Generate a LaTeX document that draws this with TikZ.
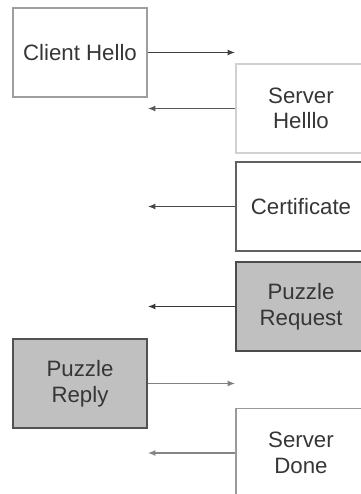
\documentclass[tikz,border=0pt]{standalone}
\usepackage{fontspec}
\setmainfont{Liberation Sans}
\usetikzlibrary{arrows.meta, positioning}
\definecolor{boxgray}{HTML}{C0C0C0}
\definecolor{txtgray}{HTML}{363636}

\begin{document}
\begin{tikzpicture}[
    msg/.style={rectangle, draw=#1, line width=1.1pt, minimum width=3.9cm, minimum height=2.67cm, align=center, text=txtgray, font=\fontsize{19}{21.9}\selectfont},
    msg/.default=gray!70,
    client/.style={msg=#1, minimum width=4.02cm},
    puzzle/.style={fill=boxgray},
    arr/.style={-{Latex[length=6.5pt, width=5pt]}, line width=1.4pt, draw=#1},
    arr/.default=black!70
]
\useasboundingbox (0,0) rectangle (10.8,-14.82);

% Client side
\node[client=black!38] (chello) at (2.4,-1.575) {Client Hello};
\node[client=black!68, puzzle] (preply) at (2.4,-11.505) {Puzzle\\Reply};

% Server side
\node[msg=black!18] (shello) at (9.03,-3.255) {Server\\Helllo};
\node[msg=black!62] (cert) at (9.03,-6.195) {Certificate};
\node[msg=black!70, puzzle] (preq) at (9.03,-9.195) {Puzzle\\Request};
\node[msg=black!40] (sdone) at (9.03,-13.59) {Server\\Done};

% Messages
\draw[arr=black!75] (chello.east) -- (chello.east -| shello.west);
\draw[arr=black!65] (shello.west) -- (shello.west -| chello.east);
\draw[arr=black!72] (cert.west) -- (cert.west -| chello.east);
\draw[arr=black!78] (preq.west) -- (preq.west -| chello.east);
\draw[arr=black!50] (preply.east) -- (preply.east -| sdone.west);
\draw[arr=black!48] (sdone.west) -- (sdone.west -| chello.east);
\end{tikzpicture}
\end{document}
